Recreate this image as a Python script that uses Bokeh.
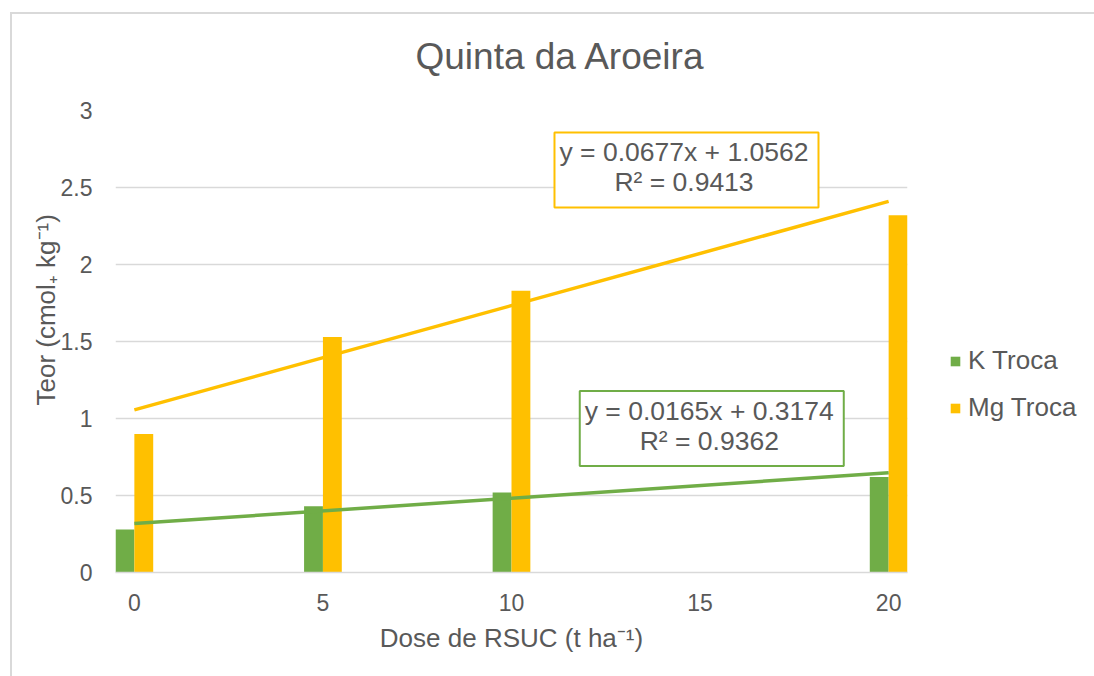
from bokeh.plotting import figure
from bokeh.models import (ColumnDataSource, Label, Legend, LegendItem, Range1d, FixedTicker,
                          InlineStyleSheet, Title)
from bokeh.transform import dodge
from bokeh.embed import file_html
from bokeh.resources import INLINE

# ---- data ----
doses = [0, 5, 10, 20]
k_troca = [0.28, 0.43, 0.52, 0.62]
mg_troca = [0.90, 1.53, 1.83, 2.32]
k_slope, k_intercept, k_r2 = 0.0165, 0.3174, 0.9362
mg_slope, mg_intercept, mg_r2 = 0.0677, 1.0562, 0.9413
x_ticks = [0, 5, 10, 15, 20]
y_ticks = [0, 0.5, 1, 1.5, 2, 2.5, 3]

GREEN = "#70AD47"
GOLD = "#FFC000"
TXT = "#595959"
GRID = "#D9D9D9"
FONT = "Liberation Sans"

src = ColumnDataSource(dict(dose=doses, k=k_troca, mg=mg_troca))

p = figure(frame_width=792, frame_height=462, output_backend="svg", toolbar_location=None,
           x_range=Range1d(-0.5, 20.5), y_range=Range1d(0, 3),
           min_border_left=115, min_border_right=171, min_border_top=110, min_border_bottom=88)
p.outline_line_color = None
p.background_fill_color = "white"
p.stylesheets = [InlineStyleSheet(css=(
    ":host::after{content:'';position:absolute;left:10px;top:12px;right:-16px;bottom:-16px;"
    "border-top:2px solid #D9D9D9;border-left:2px solid #D9D9D9;pointer-events:none;z-index:10;}"))]

p.title.text = "Quinta da Aroeira"
p.title.align = "left"
p.title.offset = 300
p.title.text_font = FONT
p.title.text_font_size = "37px"
p.title.text_font_style = "normal"
p.title.text_color = TXT
p.title.standoff = 67

rk = p.vbar(x=dodge("dose", -0.25, range=p.x_range), top="k", width=0.5, source=src,
            fill_color=GREEN, line_color=None)
rm = p.vbar(x=dodge("dose", 0.25, range=p.x_range), top="mg", width=0.5, source=src,
            fill_color=GOLD, line_color=None)

xs = [min(doses), max(doses)]
p.line(xs, [mg_slope * x + mg_intercept for x in xs], line_color=GOLD, line_width=3.5)
p.line(xs, [k_slope * x + k_intercept for x in xs], line_color=GREEN, line_width=3.5)

# axes
p.xaxis.ticker = FixedTicker(ticks=x_ticks)
p.yaxis.ticker = FixedTicker(ticks=y_ticks)
p.yaxis.major_label_overrides = {0: "0", 0.5: "0.5", 1: "1", 1.5: "1.5", 2: "2", 2.5: "2.5", 3: "3"}
for ax in (p.xaxis, p.yaxis):
    ax.major_tick_line_color = None
    ax.minor_tick_line_color = None
    ax.major_label_text_font = FONT
    ax.major_label_text_font_size = "23px"
    ax.major_label_text_color = TXT
    ax.axis_label_text_font = FONT
    ax.axis_label_text_font_size = "26px"
    ax.axis_label_text_font_style = "normal"
    ax.axis_label_text_color = TXT
p.yaxis.axis_line_color = None
p.xaxis.axis_line_color = GRID
p.xaxis.axis_line_width = 1.5
p.xaxis.major_label_standoff = 15
p.yaxis.major_label_standoff = 17
p.xaxis.axis_label = "Dose de RSUC (t ha\u207b\u00b9)"
p.xaxis.axis_label_standoff = 9

# y axis title (Excel places it slightly above the plot centre)
p.add_layout(Title(text="Teor (cmol\u208a kg\u207b\u00b9)", align="left", offset=167,
                   text_font=FONT, text_font_size="26px", text_font_style="normal",
                   text_color=TXT, standoff=-6), "left")

p.xgrid.grid_line_color = None
p.ygrid.grid_line_color = GRID
p.ygrid.grid_line_width = 1.5

# trendline equations
for slope, icpt, r2, xc, yc, col in [(mg_slope, mg_intercept, mg_r2, 14.64, 2.614, GOLD),
                                     (k_slope, k_intercept, k_r2, 15.31, 0.935, GREEN)]:
    p.add_layout(Label(x=xc, y=yc,
                       text=f"y = {slope}x + {icpt}\nR\u00b2 = {r2}",
                       text_font=FONT, text_font_size="26.5px", text_color=TXT,
                       text_align="center", text_baseline="middle", text_line_height=1.0,
                       border_line_color=col, border_line_width=2, background_fill_color="white",
                       padding=(5, 10, 5, 10)))

legend = Legend(items=[LegendItem(label="K Troca", renderers=[rk]),
                       LegendItem(label="Mg Troca", renderers=[rm])],
                location=(42, 149), padding=0, margin=0, spacing=16,
                glyph_width=12, glyph_height=12, label_standoff=7, label_height=24,
                label_text_font=FONT, label_text_font_size="26px", label_text_color=TXT,
                border_line_color=None, background_fill_alpha=0)
p.add_layout(legend, "right")

open("out.html", "w").write(file_html(p, INLINE))
